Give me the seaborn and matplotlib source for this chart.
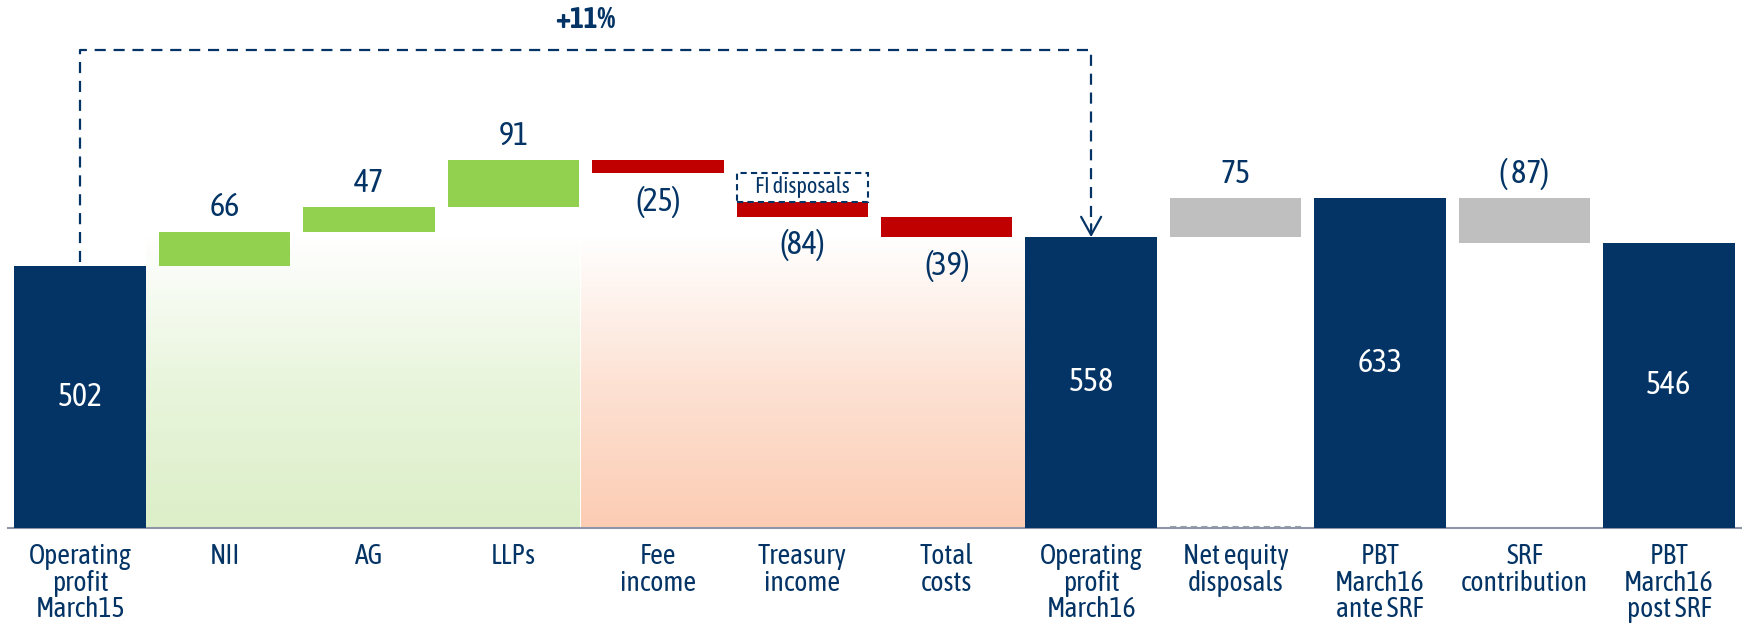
import numpy as np
import pandas as pd
import seaborn as sns
import matplotlib.pyplot as plt
from matplotlib import font_manager
from matplotlib.colors import LinearSegmentedColormap

# data
categories = ["Operating\nprofit\nMarch15", "NII", "AG", "LLPs", "Fee\nincome",
              "Treasury\nincome", "Total\ncosts", "Operating\nprofit\nMarch16",
              "Net equity\ndisposals", "PBT\nMarch16\nante SRF", "SRF\ncontribution",
              "PBT\nMarch16\npost SRF"]
values = [502, 66, 47, 91, -25, -84, -39, 558, 75, 633, -87, 546]
kinds = ["total", "up", "up", "up", "down", "down", "down", "total",
         "other", "total", "other", "total"]
value_labels = ["502", "66", "47", "91", "(25)", "(84)", "(39)", "558",
                "75", "633", "( 87)", "546"]
fi_disposals = -55
growth_label = "+11%"

NAVY = "#033465"
GREEN = "#92D050"
RED = "#C00000"
GRAY = "#BFBFBF"
AXIS = "#8C96A8"
kind_colors = {"total": NAVY, "up": GREEN, "down": RED, "other": GRAY}

sns.set_style("white")
# narrow face if one is around (prefer one that also has a bold cut)
fonts = font_manager.fontManager.ttflist
cands = {}
for f in fonts:
    if "Narrow" in f.name or "Condensed" in f.name:
        w = f.weight if isinstance(f.weight, int) else (700 if "bold" in str(f.weight) else 400)
        cands.setdefault(f.name, set()).add(w)
with_bold = [n for n, ws in cands.items() if max(ws) >= 700]
narrow = with_bold[0] if with_bold else (list(cands)[0] if cands else "DejaVu Sans")
plt.rcParams["font.family"] = [narrow, "DejaVu Sans"]
plt.rcParams["font.stretch"] = "condensed"

# waterfall bottoms / heights
bottoms, heights = [], []
running = 0
for v, k in zip(values, kinds):
    if k == "total":
        bottoms.append(0)
        heights.append(v)
        running = v
    else:
        new = running + v
        bottoms.append(min(running, new))
        heights.append(abs(v))
        running = new

# treasury bar: red part only, FI disposals drawn as dashed box on top
ti = categories.index("Treasury\nincome")
heights[ti] = abs(values[ti]) - abs(fi_disposals)
fi_bottom = bottoms[ti] + heights[ti]

fig = plt.figure(figsize=(17.42, 6.28), dpi=100)
ax = fig.add_axes([8 / 1742, 100 / 628, 1733 / 1742, 528 / 628])

df = pd.DataFrame({"category": categories, "height": heights})
W = 0.91
sns.barplot(data=df, x="category", y="height", bottom=bottoms, width=W,
            color=NAVY, saturation=1, errorbar=None, ax=ax, zorder=3)
for patch, k in zip(ax.patches, kinds):
    patch.set_facecolor(kind_colors[k])
    patch.set_edgecolor("none")

# FI disposals box
ax.bar(ti, abs(fi_disposals), bottom=fi_bottom, width=W, facecolor="white",
       edgecolor=NAVY, linestyle=(0, (3, 2)), linewidth=1.5, zorder=3)
ax.text(ti, fi_bottom + abs(fi_disposals) / 2, "FI disposals", ha="center",
        va="center", fontsize=16, color=NAVY, zorder=4)

# dashed gray base under net equity disposals
ni = categories.index("Net equity\ndisposals")
ax.plot([ni - W / 2, ni + W / 2], [2, 2], color="#9AA0AA",
        linestyle=(0, (3, 2)), lw=1.5, zorder=2)

# gradient backgrounds
grad = np.linspace(0, 1, 256).reshape(-1, 1)
green_cmap = LinearSegmentedColormap.from_list("g", ["#FFFFFF", "#E9F5DC", "#DCEFC8"])
red_cmap = LinearSegmentedColormap.from_list("r", ["#FFFFFF", "#FDE2D4", "#FCCCB3"])
ax.imshow(grad, cmap=green_cmap, aspect="auto", extent=[W / 2, 3.455, 0, 560], zorder=1)
ax.imshow(grad, cmap=red_cmap, aspect="auto", extent=[3.465, 7 - W / 2, 0, 560], zorder=1)

# value labels
for i, (v, k, lab) in enumerate(zip(values, kinds, value_labels)):
    top = bottoms[i] + heights[i]
    if k == "total":
        ax.text(i, v / 2, lab, ha="center", va="center", color="white", fontsize=23)
    elif k == "down":
        ax.text(i, bottoms[i] - 55, lab, ha="center", va="center", color=NAVY, fontsize=23)
    else:
        ax.text(i, top + 46, lab, ha="center", va="center", color=NAVY, fontsize=23)

# growth bracket
end = categories.index("Operating\nprofit\nMarch16")
dash = (0, (5, 3.5))
ax.plot([0, 0, end, end], [values[0] + 8, 917, 917, 580], color=NAVY, lw=1.6,
        linestyle=dash, zorder=4)
ax.annotate("", xy=(end, values[end]), xytext=(end, values[end] + 25),
            arrowprops=dict(arrowstyle="->,head_length=0.65,head_width=0.36",
                            color=NAVY, lw=1.6, mutation_scale=20, shrinkA=0, shrinkB=0),
            zorder=4)
ax.text(end / 2, 975, growth_label, ha="center", va="center", color=NAVY,
        fontsize=21, fontweight="bold")

# axes styling
ax.set_xlim(-0.5, 11.5)
ax.set_ylim(0, 1013)
ax.set_xlabel("")
ax.set_ylabel("")
ax.set_yticks([])
for s in ["top", "right", "left"]:
    ax.spines[s].set_visible(False)
ax.spines["bottom"].set_color(AXIS)
ax.spines["bottom"].set_linewidth(1.5)
ax.set_xticks(range(len(categories)))
ax.set_xticklabels(categories, fontsize=20, color=NAVY)
ax.set_xticks(np.arange(-0.5, len(categories), 1), minor=True)
ax.tick_params(axis="x", which="major", length=0, pad=11)
ax.tick_params(axis="x", which="minor", length=7, width=1.5, color=AXIS, direction="out")
for lab in ax.get_xticklabels():
    lab.set_linespacing(0.98)

fig.savefig("out.png", dpi=100)
